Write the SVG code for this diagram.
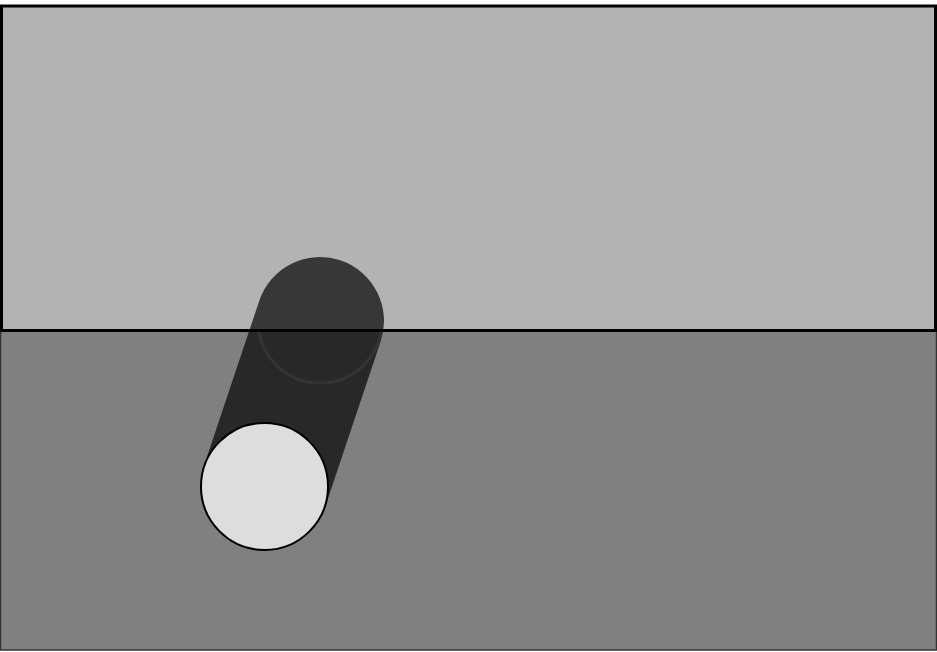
<svg xmlns="http://www.w3.org/2000/svg" width="937" height="652" viewBox="0 0 937 652">
<defs>
<clipPath id="below"><rect x="0" y="331" width="937" height="321"/></clipPath>
</defs>
<rect x="0" y="0" width="937" height="652" fill="#ffffff"/>
<g id="ground">
<rect x="0.5" y="330" width="936" height="320" fill="#808080" stroke="#333333" stroke-width="1.5"/>
</g>
<g id="wall">
<rect x="1.5" y="6" width="934" height="324.5" fill="#b3b3b3" stroke="#000000" stroke-width="3"/>
</g>
<g id="shadow">
<path d="M 259.3 300.7 A 64 64 0 0 1 380.7 341.3 L 325.2 506.8 A 64 64 0 0 1 203.8 466.2 Z" fill="#000000" fill-opacity="0.69"/>
<circle cx="320" cy="321" r="62" fill="none" stroke="#ffffff" stroke-opacity="0.06" stroke-width="3" clip-path="url(#below)"/>
</g>
<g id="ball">
<circle cx="264.5" cy="486.5" r="63.5" fill="#dddddd" stroke="#000000" stroke-width="2"/>
</g>
</svg>
